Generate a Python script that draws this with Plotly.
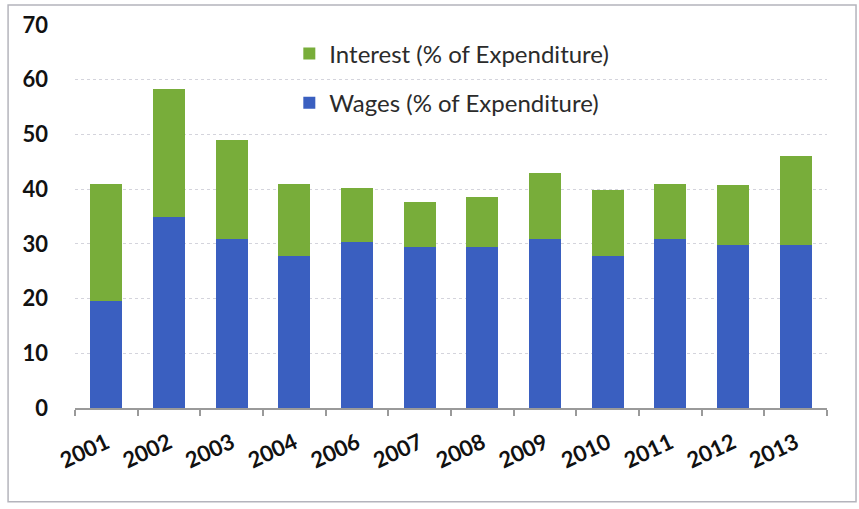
import plotly.graph_objects as go

years = ["2001", "2002", "2003", "2004", "2006", "2007",
         "2008", "2009", "2010", "2011", "2012", "2013"]
wages = [19.5, 35.0, 30.8, 27.8, 30.4, 29.4, 29.4, 30.8, 27.8, 30.8, 29.8, 29.8]
interest = [21.5, 23.3, 18.2, 13.2, 9.8, 8.2, 9.2, 12.2, 12.1, 10.2, 11.0, 16.3]
y_ticks = [0, 10, 20, 30, 40, 50, 60, 70]

BLUE = "#3A5FC0"
GREEN = "#78AD3A"
FONT = "Lato"

fig = go.Figure()
fig.add_trace(go.Bar(x=years, y=wages, name="Wages (% of Expenditure)",
                     marker=dict(color=BLUE, line=dict(width=0)),
                     legendgroup="w", legendrank=2))
fig.add_trace(go.Bar(x=years, y=interest, name="Interest (% of Expenditure)",
                     marker=dict(color=GREEN, line=dict(width=0)),
                     legendgroup="i", legendrank=1))

fig.update_layout(
    width=859, height=509,
    margin=dict(l=75, r=32, t=25, b=101),
    barmode="stack",
    bargap=0.49,
    paper_bgcolor="white",
    plot_bgcolor="white",
    font=dict(family=FONT, color="#1a1a1a"),
    showlegend=True,
    legend=dict(
        x=0.285, y=0.983, xanchor="left", yanchor="top",
        traceorder="grouped", tracegroupgap=15,
        font=dict(family=FONT, size=24, color="#2b2b2b"),
        bgcolor="rgba(0,0,0,0)",
    ),
    xaxis=dict(
        type="category",
        showgrid=False,
        showline=True, linecolor="#9a9a9a", linewidth=1.5,
        ticks="outside", tickson="boundaries", ticklen=6,
        tickcolor="#9a9a9a", tickwidth=1.5,
        tickangle=-25,
        tickfont=dict(family=FONT, size=22, color="#111111", weight="bold"),
        ticklabelstandoff=12,
    ),
    yaxis=dict(
        range=[0, 70],
        tickvals=y_ticks,
        showline=False, zeroline=False,
        showgrid=True, gridcolor="#d4d4dc", griddash="dot", gridwidth=1,
        ticks="",
        tickfont=dict(family=FONT, size=22, color="#111111", weight="bold"),
        ticklabelstandoff=26,
    ),
    shapes=[dict(
        type="rect", xref="paper", yref="paper",
        x0=-0.089, x1=1.0386, y0=-0.245, y1=1.052,
        line=dict(color="#b4b4bc", width=1.5),
        fillcolor="rgba(0,0,0,0)", layer="below",
    )],
)

fig.write_html("out.html")
